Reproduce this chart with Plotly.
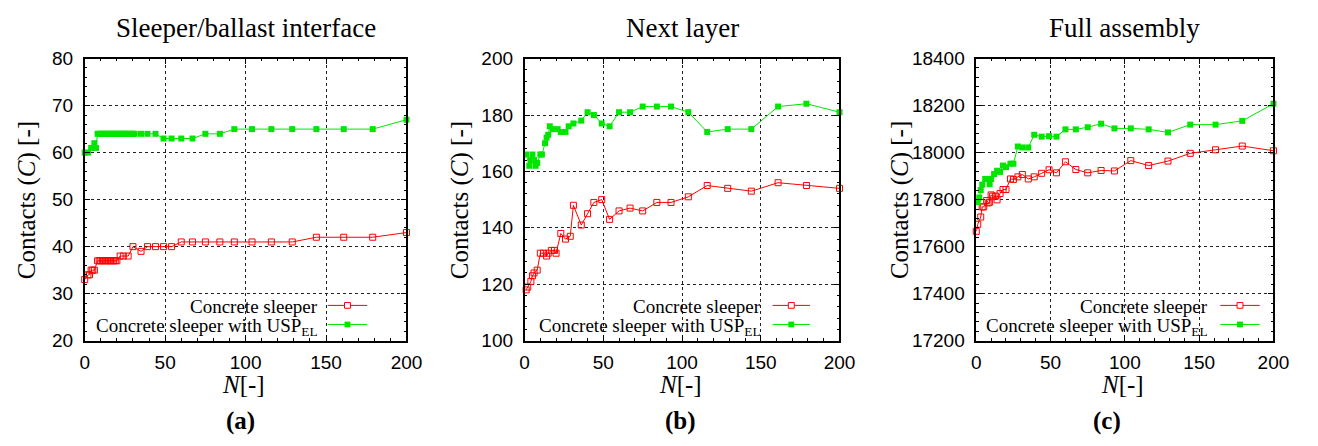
import plotly.graph_objects as go

W, H = 1318, 446

# ---------------- data ----------------
a_red_x = [0, 2, 3, 4, 5, 6, 8, 9, 10, 11, 12, 13, 14, 15, 16, 17, 18, 19, 20, 22, 24, 27, 30,
           35, 39, 44, 49, 54, 60, 67, 75, 84, 93, 104, 116, 129, 144, 161, 179, 200]
a_red_y = [33, 34, 34, 35, 35, 35, 37, 37, 37, 37, 37, 37, 37, 37, 37, 37, 37, 37, 37, 38, 38, 38, 40,
           39, 40, 40, 40, 40, 41, 41, 41, 41, 41, 41, 41, 41, 42, 42, 42, 43]
a_grn_x = [0, 2, 4, 6, 7, 8, 9, 10, 11, 12, 13, 14, 15, 16, 17, 18, 19, 20, 21, 22, 23, 24, 25, 26,
           27, 28, 29, 30, 31, 35, 39, 44, 49, 54, 60, 67, 75, 84, 93, 104, 116, 129, 144, 161, 179, 200]
a_grn_y = [60, 60, 61, 62, 61, 64, 64, 64, 64, 64, 64, 64, 64, 64, 64, 64, 64, 64, 64, 64, 64, 64, 64, 64,
           64, 64, 64, 64, 64, 64, 64, 64, 63, 63, 63, 63, 64, 64, 65, 65, 65, 65, 65, 65, 65, 67]

b_red_x = [1, 2, 4, 5, 6, 8, 10, 12, 14, 15, 17, 19, 20, 23, 26, 29, 31, 36, 40, 44, 49, 54, 60, 67,
           75, 84, 93, 104, 116, 129, 144, 161, 179, 200]
b_red_y = [118, 119, 121, 123, 124, 125, 131, 131, 130, 131, 132, 132, 131, 138, 136, 137, 148, 141, 145,
           149, 150, 143, 146, 147, 146, 149, 149, 151, 155, 154, 153, 156, 155, 154]
b_grn_x = [1, 3, 4, 5, 6, 7, 8, 10, 11, 13, 14, 15, 16, 18, 21, 23, 26, 28, 31, 36, 40, 44, 49, 54,
           60, 67, 75, 84, 93, 104, 116, 129, 144, 161, 179, 200]
b_grn_y = [166, 162, 164, 166, 164, 162, 163, 166, 166, 170, 172, 173, 176, 175, 175, 174, 174, 176, 177,
           178, 181, 180, 177, 176, 181, 181, 183, 183, 183, 181, 174, 175, 175, 183, 184, 181]

c_red_x = [0, 1, 3, 4, 5, 7, 8, 9, 10, 11, 13, 14, 16, 18, 20, 23, 25, 28, 31, 35, 39, 44, 49, 54,
           60, 67, 75, 84, 93, 104, 116, 129, 144, 161, 179, 200]
c_red_y = [17665, 17695, 17726, 17769, 17769, 17796, 17786, 17789, 17820, 17815, 17815, 17799, 17826,
           17843, 17843, 17888, 17886, 17897, 17907, 17888, 17897, 17912, 17927, 17914, 17961, 17928,
           17914, 17924, 17922, 17966, 17945, 17964, 17997, 18012, 18028, 18008]
c_grn_x = [1, 2, 3, 4, 6, 8, 9, 10, 12, 14, 16, 18, 20, 23, 25, 28, 31, 35, 39, 44, 49, 54, 60, 67,
           75, 84, 93, 104, 116, 129, 144, 161, 179, 200]
c_grn_y = [17789, 17809, 17841, 17864, 17888, 17888, 17866, 17888, 17909, 17923, 17918, 17945, 17938,
           17953, 17953, 18026, 18022, 18022, 18076, 18068, 18070, 18068, 18099, 18099, 18108, 18123,
           18103, 18103, 18099, 18086, 18119, 18119, 18135, 18208]

titles = ["Sleeper/ballast interface", "Next layer", "Full assembly"]
panel_labels = ["(a)", "(b)", "(c)"]
series_names = ["Concrete sleeper", "Concrete sleeper with USP<sub>EL</sub>"]
y_ranges = [(20, 80), (100, 200), (17200, 18400)]
y_dticks = [10, 20, 200]
y_minor = [2, 4, 40]
x_range = (0, 200)
x_dtick = 50
x_minor = 10

RED = "#ff0000"
GRN = "#00e600"

# layout in pixels
px_x = [(81, 408), (528, 848), (987, 1289)]
px_top, px_bot = 51, 347
ytitle_x = [22, 462, 909]
label_x = [239, 686, 1120]
leg_text_right = [320, 770, 1225]
leg_line = [(328, 368), (780, 818), (1235, 1275)]
leg_rows = [310, 330]

SERIF = "Liberation Serif"
SANS = "Liberation Sans"


def px(x):
    return x / W


def py(y):
    return 1 - y / H


panels = [
    (a_red_x, a_red_y, a_grn_x, a_grn_y),
    (b_red_x, b_red_y, b_grn_x, b_grn_y),
    (c_red_x, c_red_y, c_grn_x, c_grn_y),
]

fig = go.Figure()
annotations = []
shapes = []

for i, (rx, ry, gx, gy) in enumerate(panels):
    sfx = "" if i == 0 else str(i + 1)
    fig.add_trace(go.Scatter(
        x=rx, y=ry, mode="lines+markers", name="Concrete sleeper",
        line=dict(color=RED, width=1),
        marker=dict(symbol="square-open", size=6, color=RED, line=dict(color=RED, width=1)),
        xaxis="x" + sfx, yaxis="y" + sfx, cliponaxis=False, showlegend=False))
    fig.add_trace(go.Scatter(
        x=gx, y=gy, mode="lines+markers", name="Concrete sleeper with USP_EL",
        line=dict(color=GRN, width=1),
        marker=dict(symbol="square", size=6, color=GRN, line=dict(width=0)),
        xaxis="x" + sfx, yaxis="y" + sfx, cliponaxis=False, showlegend=False))

    common = dict(showline=True, linecolor="black", linewidth=1.5, mirror="allticks",
                  ticks="inside", ticklen=6, tickwidth=1, tickcolor="black",
                  showgrid=True, gridcolor="#222", griddash="dot", gridwidth=1,
                  zeroline=False,
                  tickfont=dict(family=SANS, size=19, color="black"))
    fig.layout["xaxis" + sfx] = dict(
        common, domain=[px(px_x[i][0]), px(px_x[i][1])], range=list(x_range),
        dtick=x_dtick, tick0=0, anchor="y" + sfx, ticklabelstandoff=4,
        minor=dict(ticks="inside", ticklen=3, dtick=x_minor, tickcolor="black", showgrid=False))
    fig.layout["yaxis" + sfx] = dict(
        common, domain=[py(px_bot), py(px_top)], range=list(y_ranges[i]),
        dtick=y_dticks[i], tick0=y_ranges[i][0], tickformat="d", anchor="x" + sfx,
        ticklabelstandoff=6,
        minor=dict(ticks="inside", ticklen=3, dtick=y_minor[i], tickcolor="black", showgrid=False))

    cx = (px_x[i][0] + px_x[i][1]) / 2
    annotations.append(dict(text=titles[i], x=px(cx), y=py(19), xref="paper", yref="paper",
                            showarrow=False, xanchor="center", yanchor="middle",
                            font=dict(family=SERIF, size=27, color="black")))
    annotations.append(dict(text="Contacts (<i>C</i>) [-]", x=px(ytitle_x[i]), y=py(200),
                            xref="paper", yref="paper", showarrow=False, textangle=-90,
                            xanchor="center", yanchor="middle",
                            font=dict(family=SERIF, size=25, color="black")))
    annotations.append(dict(text="<i>N</i>[-]", x=px(cx - 2), y=py(393), xref="paper", yref="paper",
                            showarrow=False, xanchor="center", yanchor="middle",
                            font=dict(family=SERIF, size=25, color="black")))
    annotations.append(dict(text="<b>" + panel_labels[i] + "</b>", x=px(label_x[i]), y=py(431),
                            xref="paper", yref="paper", showarrow=False,
                            xanchor="center", yanchor="middle",
                            font=dict(family=SERIF, size=25, color="black")))

    # legend (key on the right, text right-aligned)
    for k, (name, col) in enumerate(zip(series_names, [RED, GRN])):
        yy = leg_rows[k]
        annotations.append(dict(text=name, x=px(leg_text_right[i]), y=py(yy + (1 if k == 0 else 3)),
                                xref="paper", yref="paper", showarrow=False,
                                xanchor="right", yanchor="middle",
                                font=dict(family=SERIF, size=19, color="black")))
        x0, x1 = leg_line[i]
        shapes.append(dict(type="line", xref="paper", yref="paper",
                           x0=px(x0), x1=px(x1), y0=py(yy), y1=py(yy),
                           line=dict(color=col, width=1)))
        mx = (x0 + x1) / 2
        if k == 0:
            shapes.append(dict(type="rect", xref="paper", yref="paper",
                               x0=px(mx - 3), x1=px(mx + 3), y0=py(yy - 3), y1=py(yy + 3),
                               line=dict(color=col, width=1), fillcolor="white"))
        else:
            shapes.append(dict(type="rect", xref="paper", yref="paper",
                               x0=px(mx - 3), x1=px(mx + 3), y0=py(yy - 3), y1=py(yy + 3),
                               line=dict(color=col, width=0), fillcolor=col))

fig.update_layout(
    width=W, height=H, margin=dict(l=0, r=0, t=0, b=0),
    paper_bgcolor="white", plot_bgcolor="white",
    showlegend=False, annotations=annotations, shapes=shapes,
)

fig.write_html("out.html")
